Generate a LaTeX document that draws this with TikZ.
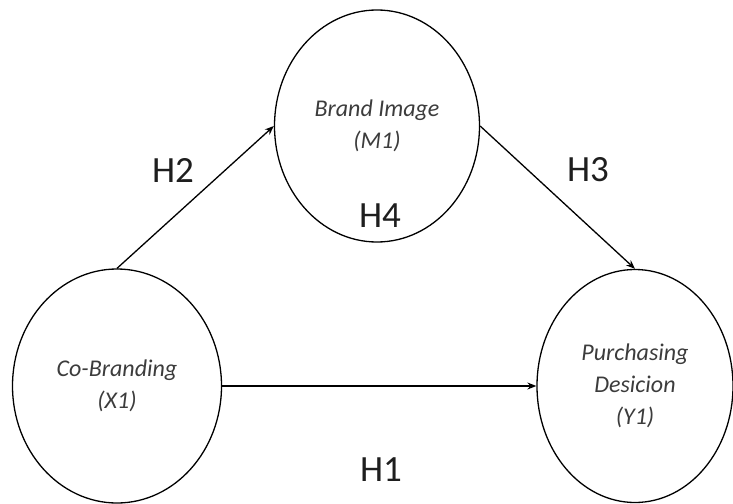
\documentclass[tikz,border=0pt]{standalone}
\usepackage{fontspec}
\setmainfont{Carlito}
\usetikzlibrary{arrows.meta,shapes.geometric}
\definecolor{vartext}{RGB}{60,60,60}
\definecolor{hyptext}{RGB}{30,30,30}
\tikzset{
  construct/.style={
    ellipse,
    draw=black,
    line width=1.3pt,
    inner sep=0pt,
    align=center,
    text=vartext,
    font=\fontsize{24}{32}\selectfont\itshape
  },
  hyp/.style={
    text=hyptext,
    font=\fontsize{37}{40}\selectfont
  },
  arr/.style={-{Stealth[length=9pt,width=7pt]},line width=1.3pt}
}

\begin{document}
\begin{tikzpicture}[x=1pt,y=-1pt]
            \useasboundingbox (0,0) rectangle (733,503);
            \node[construct,minimum width=205pt,minimum height=232pt] (bi) at (377,126) {Brand Image\\(M1)};
            \node[construct,minimum width=209pt,minimum height=234pt] (cb) at (117,386) {Co-Branding\\(X1)};
            \node[construct,minimum width=196pt,minimum height=233pt] (pd) at (635,386) {Purchasing\\Desicion\\(Y1)};
            \draw[arr] (cb.north) -- (bi.west);
            \draw[arr] (bi.east) -- (pd.north);
            \draw[arr] (cb.east) -- (pd.west);
            \node[hyp] (h2) at (173,170) {H2};
            \node[hyp] (h3) at (588,170) {H3};
            \node[hyp] (h4) at (380,216) {H4};
            \node[hyp] (h1) at (381,470) {H1};
          \end{tikzpicture}
\end{document}
